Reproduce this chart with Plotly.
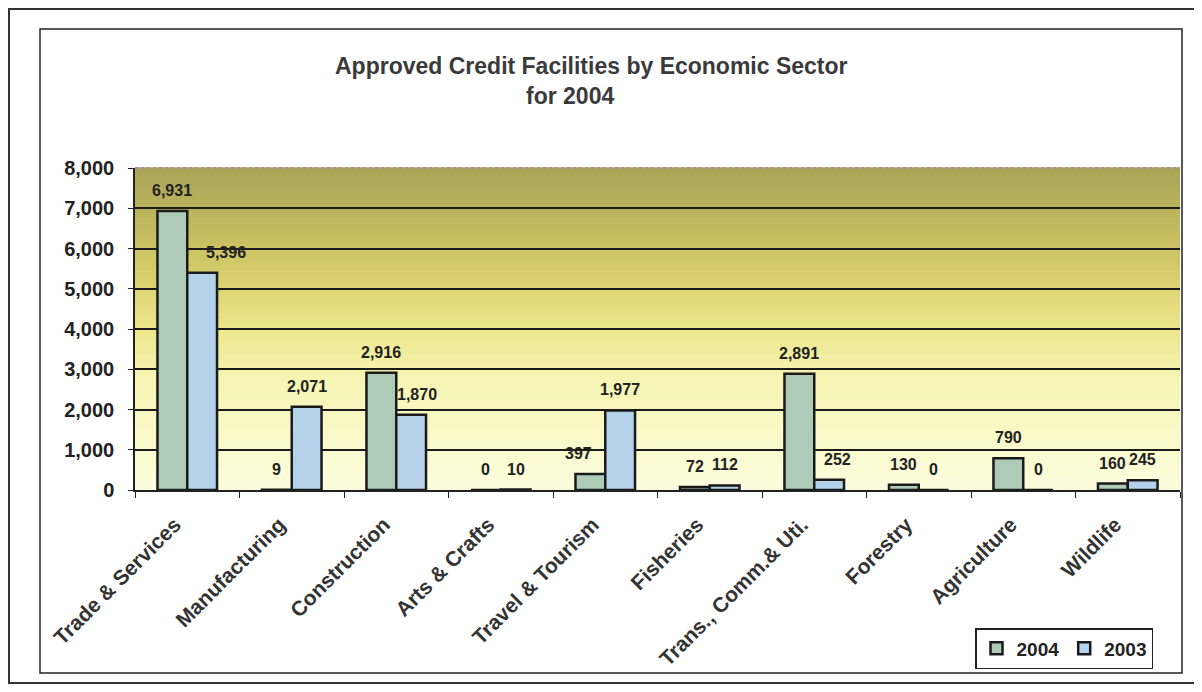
import plotly.graph_objects as go

categories = ["Trade & Services", "Manufacturing", "Construction", "Arts & Crafts",
              "Travel & Tourism", "Fisheries", "Trans., Comm.& Uti.", "Forestry",
              "Agriculture", "Wildlife"]
values_2004 = [6931, 9, 2916, 0, 397, 72, 2891, 130, 790, 160]
values_2003 = [5396, 2071, 1870, 10, 1977, 112, 252, 0, 0, 245]
y_ticks = [0, 1000, 2000, 3000, 4000, 5000, 6000, 7000, 8000]

# browser body margin offsets the figure by 8px; positions below are in screen px
OFF = 8
W, H = 1202 - 2 * OFF, 692 - 2 * OFF
SL, SR, ST, SB = 135, 1180, 168, 490          # plot area on screen
L, T = SL - OFF, ST - OFF
R, B = W - (SR - OFF), H - (SB - OFF)
pw, ph = SR - SL, SB - ST

def px(sx):
    return (sx - SL) / pw

def py(sy):
    return (SB - sy) / ph

FONT = "Arial, Liberation Sans, sans-serif"
BARGAP = 0.43
half = (1 - BARGAP) / 4  # centre offset of each bar in a pair
# small horizontal nudges of a few value labels (style only), keyed by (series, index)
label_nudge = {("2003", 0): 24, ("2004", 4): -12, ("2003", 2): 6, ("2003", 6): 8}

fig = go.Figure()
fig.add_trace(go.Bar(
    x=categories, y=values_2004, name="2004",
    marker=dict(color="#aecbb8", line=dict(color="#1a1a1a", width=2.5)),
))
fig.add_trace(go.Bar(
    x=categories, y=values_2003, name="2003",
    marker=dict(color="#b4d2ea", line=dict(color="#1a1a1a", width=2.5)),
))

annotations = []
for name, series, sign in (("2004", values_2004, -1), ("2003", values_2003, 1)):
    for i, v in enumerate(series):
        annotations.append(dict(
            x=i + sign * half, y=v, xref="x", yref="y", text=f"{v:,}", showarrow=False,
            yanchor="bottom", xanchor="center", yshift=10, xshift=label_nudge.get((name, i), 0),
            font=dict(family=FONT, size=16, color="#222222", weight="bold")))

annotations += [
    dict(text="<b>Approved Credit Facilities by Economic Sector</b>", xref="paper", yref="paper",
         x=px(591), y=py(66), yanchor="middle", showarrow=False,
         font=dict(family=FONT, size=23, color="#3a3a3a")),
    dict(text="<b>for 2004</b>", xref="paper", yref="paper",
         x=px(570), y=py(96), yanchor="middle", showarrow=False,
         font=dict(family=FONT, size=23, color="#3a3a3a")),
]

# background gradient strips
stops = [(0.0, (253, 253, 222)), (0.35, (246, 244, 178)), (0.5, (236, 230, 140)),
         (0.65, (218, 208, 110)), (0.8, (196, 188, 95)), (1.0, (168, 164, 88))]

def col(t):
    for i in range(len(stops) - 1):
        a, ca = stops[i]
        b, cb = stops[i + 1]
        if a <= t <= b:
            f = (t - a) / (b - a)
            return "rgb(%d,%d,%d)" % tuple(round(ca[k] + (cb[k] - ca[k]) * f) for k in range(3))
    return "rgb(%d,%d,%d)" % stops[-1][1]

shapes = []
N = 60
for i in range(N):
    y0, y1 = i / N, (i + 1) / N
    shapes.append(dict(type="rect", xref="paper", yref="paper", x0=0, x1=1, y0=y0, y1=y1 + 0.002,
                       fillcolor=col((i + 0.5) / N), line=dict(width=0), layer="below"))
# chart frame
shapes.append(dict(type="rect", xref="paper", yref="paper", x0=px(40), x1=px(1182),
                   y0=py(673), y1=py(29), line=dict(color="#222222", width=1.5)))
# outer page frame
shapes.append(dict(type="rect", xref="paper", yref="paper", x0=px(9), x1=px(1230),
                   y0=py(683), y1=py(9), line=dict(color="#333333", width=2)))
# top line of plot area (pinkish)
shapes.append(dict(type="line", xref="paper", yref="paper", x0=0, x1=1, y0=1, y1=1,
                   line=dict(color="#b080a8", width=1.5, dash="dot")))

fig.update_layout(
    width=W, height=H,
    margin=dict(l=L, r=R, t=T, b=B, pad=0, autoexpand=False),
    paper_bgcolor="white", plot_bgcolor="rgba(0,0,0,0)",
    barmode="group", bargap=BARGAP, bargroupgap=0.0,
    shapes=shapes, annotations=annotations,
    showlegend=True,
    legend=dict(orientation="h", x=px(975), y=py(628), xanchor="left", yanchor="top",
                bordercolor="#222222", borderwidth=1.5, bgcolor="white",
                font=dict(family=FONT, size=19, color="#222222", weight="bold"),
                itemwidth=30, traceorder="normal"),
    font=dict(family=FONT),
)
fig.update_xaxes(
    tickangle=-45, ticks="outside", tickson="boundaries", ticklen=6, tickcolor="#222",
    tickmode="array", tickvals=categories, ticktext=[c + "\u00a0\u00a0\u00a0" for c in categories],
    tickfont=dict(family=FONT, size=21, color="#333333", weight="bold"), ticklabelstandoff=0,
    showline=True, linecolor="#222", linewidth=1.5, showgrid=False, automargin=False,
)
fig.update_yaxes(
    range=[0, 8000], tickvals=y_ticks, tickformat=",", ticks="outside", ticklen=5,
    tickcolor="#222", tickfont=dict(family=FONT, size=20, color="#222222", weight="bold"),
    ticklabelstandoff=10,
    showline=True, linecolor="#222", linewidth=1.5, automargin=False,
    showgrid=True, gridcolor="#1a1a1a", gridwidth=1.5, zeroline=False,
)
fig.write_html("out.html")
